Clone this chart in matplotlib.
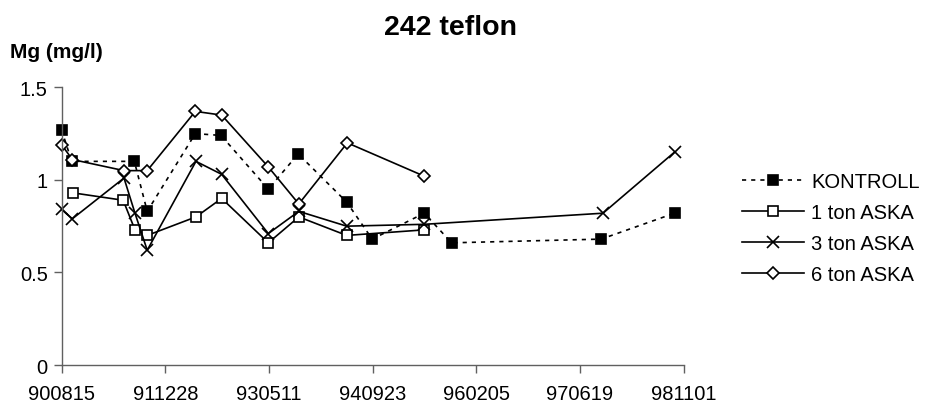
import numpy as np
import matplotlib
matplotlib.use("Agg")
import matplotlib.pyplot as plt
import matplotlib.dates as mdates

plt.rcParams["font.family"] = ["Liberation Sans", "DejaVu Sans"]

# Mg concentrations per treatment, sampling dates as ISO strings
kontroll_dates = ["1990-08-15", "1990-10-03", "1991-08-01", "1991-10-02", "1992-05-21",
                  "1992-09-22", "1993-05-08", "1993-09-29", "1994-05-21", "1994-09-21",
                  "1995-05-30", "1995-10-09", "1997-09-29", "1998-09-18"]
kontroll_mg = [1.27, 1.10, 1.10, 0.83, 1.25, 1.24, 0.95, 1.14, 0.88, 0.68,
               0.82, 0.66, 0.68, 0.82]

ton1_dates = ["1990-10-08", "1991-06-08", "1991-08-04", "1991-10-02", "1992-05-24",
              "1992-09-25", "1993-05-08", "1993-10-02", "1994-05-21", "1995-05-30"]
ton1_mg = [0.93, 0.89, 0.73, 0.70, 0.80, 0.90, 0.66, 0.80, 0.70, 0.73]

ton3_dates = ["1990-08-15", "1990-10-06", "1991-06-12", "1991-08-04", "1991-10-02",
              "1992-05-24", "1992-09-25", "1993-05-08", "1993-10-02", "1994-05-21",
              "1995-05-30", "1997-10-08", "1998-09-18"]
ton3_mg = [0.84, 0.79, 1.01, 0.82, 0.62, 1.10, 1.03, 0.71, 0.83, 0.75,
           0.76, 0.82, 1.15]

ton6_dates = ["1990-08-15", "1990-10-06", "1991-06-12", "1991-10-02", "1992-05-21",
              "1992-09-25", "1993-05-08", "1993-10-02", "1994-05-24", "1995-05-30"]
ton6_mg = [1.19, 1.11, 1.05, 1.05, 1.37, 1.35, 1.07, 0.87, 1.20, 1.02]

series = [
    ("KONTROLL", kontroll_dates, kontroll_mg, dict(ls=(0, (2.5, 3)), marker="s", ms=7, mfc="k")),
    ("1 ton ASKA", ton1_dates, ton1_mg, dict(ls="-", marker="s", ms=7, mfc="white")),
    ("3 ton ASKA", ton3_dates, ton3_mg, dict(ls="-", marker="x", ms=8, mfc="k")),
    ("6 ton ASKA", ton6_dates, ton6_mg, dict(ls="-", marker="D", ms=6, mfc="white")),
]

fig = plt.figure(figsize=(9.26, 4.10), dpi=100)
ax = fig.add_axes([0.0665, 0.1073, 0.6718, 0.6773])

for label, dates, vals, style in series:
    ax.plot(np.array(dates, dtype="datetime64[D]"), vals, color="k", lw=1.2,
            mec="k", mew=1.2, clip_on=False, label=label, **style)

# date axis, major unit 500 days
start = np.datetime64("1990-08-15")
ticks = start + np.arange(7) * 500
ax.set_xlim(ticks[0], ticks[-1])
ax.set_xticks(ticks)
ax.xaxis.set_major_formatter(mdates.DateFormatter("%y%m%d"))
ax.set_ylim(0, 1.5)
ax.set_yticks([0, 0.5, 1, 1.5])
ax.set_yticklabels(["0", "0.5", "1", "1.5"])

axis_grey = "#606060"
for side in ("top", "right"):
    ax.spines[side].set_visible(False)
for side in ("left", "bottom"):
    ax.spines[side].set_color(axis_grey)
    ax.spines[side].set_linewidth(1)
ax.tick_params(direction="out", length=6, width=1, color=axis_grey, labelsize=14.5)
ax.tick_params(axis="y", pad=4)
ax.tick_params(axis="x", pad=8)

fig.text(451 / 926, 1 - 28 / 410, "242 teflon", ha="center", va="center",
         fontsize=20.5, weight="bold")
fig.text(10 / 926, 1 - 52 / 410, "Mg (mg/l)", ha="left", va="center",
         fontsize=15, weight="bold")

fig.legend(loc="upper left", bbox_to_anchor=(742 / 926, 1 - 173 / 410), frameon=False,
           fontsize=14.5, handlelength=3.1, handletextpad=0.35, labelspacing=0.6,
           borderpad=0, borderaxespad=0)

fig.savefig("out.png", dpi=100)
